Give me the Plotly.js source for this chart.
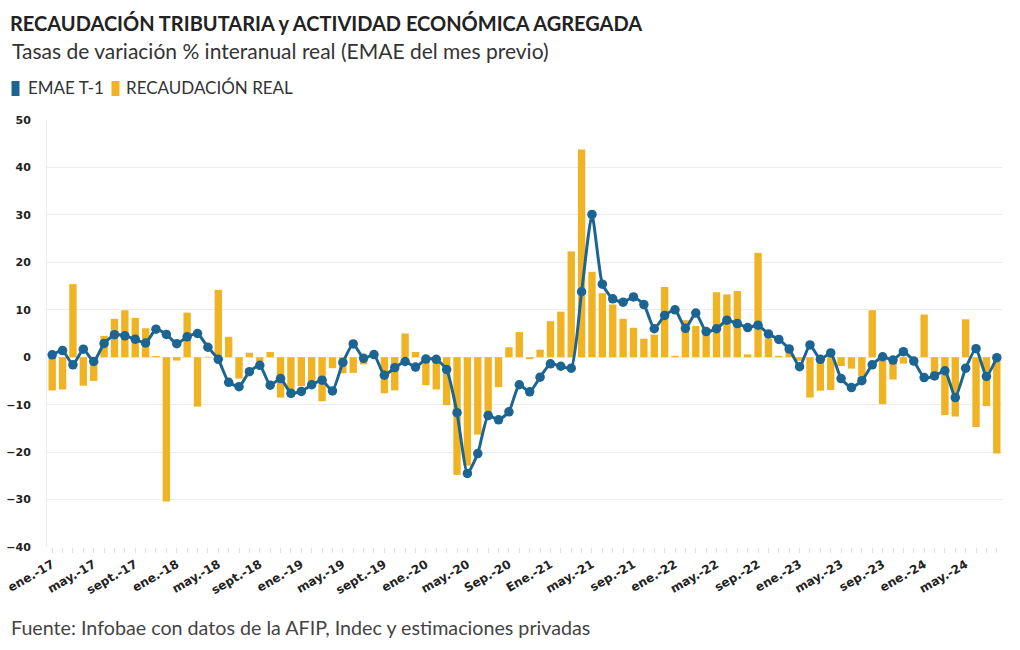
<!DOCTYPE html>
<html><head><meta charset="utf-8">
<script src="https://cdn.plot.ly/plotly-3.0.1.min.js"></script>
<style>html,body{margin:0;padding:0;background:#fff;} #chart{width:1020px;height:650px;}</style>
</head><body><div id="chart"></div>
<script>
// Monthly series, ene.-17 .. ago.-24
const tickLabels = ["ene.-17","may.-17","sept.-17","ene.-18","may.-18","sept.-18","ene.-19","may.-19","sept.-19","ene.-20","may.-20","Sep.-20","Ene.-21","may.-21","sep.-21","ene.-22","may.-22","sep.-22","ene.-23","may.-23","sep.-23","ene.-24","may.-24"];

const emaeT1 = [0.5,1.4,-1.6,1.7,-0.9,2.9,4.75,4.5,3.8,3.0,5.9,4.8,
  2.85,4.3,5.0,2.1,-0.45,-5.3,-6.2,-3.05,-1.7,-5.9,-4.5,-7.6,
  -7.2,-5.8,-4.85,-7.1,-1.1,2.8,-0.24,0.55,-3.8,-2.2,-0.9,-2.07,
  -0.4,-0.45,-2.6,-11.7,-24.5,-20.3,-12.3,-13.2,-11.5,-5.8,-7.3,-4.2,
  -1.4,-1.9,-2.3,13.8,30.1,15.4,12.3,11.6,12.7,11.1,6.0,8.8,
  10.0,6.1,9.3,5.4,6.0,7.8,7.1,6.25,6.75,4.9,3.76,1.75,
  -2.0,2.6,-0.45,0.9,-4.5,-6.4,-4.95,-1.6,0.1,-0.6,1.17,-0.8,
  -4.3,-3.95,-2.85,-8.5,-2.3,1.8,-4.05,-0.1];

const recaudacionReal = [-7.0,-6.8,15.4,-6.0,-5.0,4.5,8.1,9.9,8.3,6.1,0.25,-30.4,
  -0.7,9.4,-10.4,0.1,14.2,4.3,-4.5,0.95,-1.0,1.1,-8.5,-8.4,
  -6.1,-5.9,-9.3,-2.3,-3.4,-3.3,-1.5,0.2,-7.6,-7.0,5.0,1.1,
  -5.9,-6.8,-10.1,-24.8,-22.8,-16.3,-12.2,-6.3,2.1,5.3,-0.4,1.6,
  7.6,9.6,22.3,43.8,18.0,13.5,11.1,8.1,6.2,3.9,4.75,14.8,
  0.3,7.8,6.6,4.75,13.7,13.25,13.95,0.6,22.0,4.0,0.3,1.1,
  -0.75,-8.5,-7.05,-6.9,-1.85,-2.4,-4.1,9.9,-9.9,-4.7,-1.35,-1.2,
  9.0,-3.3,-12.2,-12.5,8.0,-14.7,-10.3,-20.3];

const yTicks = [-40,-30,-20,-10,0,10,20,30,40,50];

const blue = '#1c6592';
const gold = '#f0b323';
const idx = emaeT1.map((_, i) => i);
const tickPos = tickLabels.map((_, i) => i * 4);

const traces = [
  {type:'bar', x: idx, y: recaudacionReal, name:'RECAUDACIÓN REAL',
   marker:{color: gold}, hoverinfo:'skip'},
  {type:'scatter', mode:'lines+markers', x: idx, y: emaeT1, name:'EMAE T-1',
   line:{color: blue, width:3, shape:'spline', smoothing:0.5},
   marker:{color: blue, size:9.5}, hoverinfo:'skip'}
];

const W = 1020, H = 650;
const M = {l: 46.5, r: 18.3, t: 120, b: 103};
const PW = W - M.l - M.r, PH = H - M.t - M.b;
// page pixel -> plot-area paper fraction
function px(x){return (x - M.l) / PW;}
function py(y){return (H - M.b - y) / PH;}

const layout = {
  width: W, height: H,
  margin: M,
  paper_bgcolor:'#fff', plot_bgcolor:'#fff',
  showlegend: false,
  bargap: 0.29,
  font: {family:'Lato, "Open Sans", sans-serif', color:'#333'},
  title: {text:'<b>RECAUDACIÓN TRIBUTARIA y ACTIVIDAD ECONÓMICA AGREGADA</b>',
    font:{family:'Lato, sans-serif', size:20, color:'#222'},
    x: 10 / W, xanchor:'left', xref:'container', yref:'container', y: 1 - 24 / H, yanchor:'middle'},
  xaxis: {
    range:[-0.5, emaeT1.length - 0.5], tickmode:'array', tickvals: tickPos, ticktext: tickLabels,
    tickangle:-30, ticks:'outside', ticklen:5, tickcolor:'#e0e0e0',
    minor:{tickvals: idx, ticks:'outside', ticklen:5, tickcolor:'#e0e0e0'},
    tickfont:{family:'"DejaVu Sans", sans-serif', size:12, color:'#222', weight:'bold'},
    showgrid:false, zeroline:false, showline:false, fixedrange:true
  },
  yaxis: {
    range:[-40, 50], tickmode:'array', tickvals: yTicks,
    tickfont:{family:'"DejaVu Sans", sans-serif', size:11, color:'#222', weight:'bold'},
    showgrid:true, gridcolor:'#ececec', gridwidth:1, zeroline:false,
    showline:true, linecolor:'#ececec', ticks:'', ticklabelstandoff: 13, fixedrange:true
  },
  annotations: [
    {text:'Tasas de variación % interanual real (EMAE del mes previo)', xref:'paper', yref:'paper',
     x: px(9), y: py(50), xanchor:'left', yanchor:'middle', showarrow:false,
     font:{family:'Lato, sans-serif', size:21, color:'#333'}},
    {text:'EMAE T-1', xref:'paper', yref:'paper', x: px(25), y: py(88), xanchor:'left', yanchor:'middle',
     showarrow:false, font:{family:'Lato, sans-serif', size:17, color:'#333'}},
    {text:'RECAUDACIÓN REAL', xref:'paper', yref:'paper', x: px(124), y: py(88), xanchor:'left', yanchor:'middle',
     showarrow:false, font:{family:'Lato, sans-serif', size:17, color:'#333'}},
    {text:'Fuente: Infobae con datos de la AFIP, Indec y estimaciones privadas', xref:'paper', yref:'paper',
     x: px(8), y: py(627), xanchor:'left', yanchor:'middle', showarrow:false,
     font:{family:'Lato, sans-serif', size:19.7, color:'#444'}}
  ]
};

// legend icons drawn in page pixel space
function iconShape(x0, color) {
  const w = 8, h = 15, y0 = 81;
  return {type:'rect', xref:'paper', yref:'paper', x0: px(x0), x1: px(x0 + w), y0: py(y0 + h), y1: py(y0),
          fillcolor: color, line:{width:0}};
}
layout.shapes = [iconShape(11, blue), iconShape(111, gold)];

Plotly.newPlot('chart', traces, layout, {displayModeBar:false, staticPlot:true});
</script>
</body></html>
